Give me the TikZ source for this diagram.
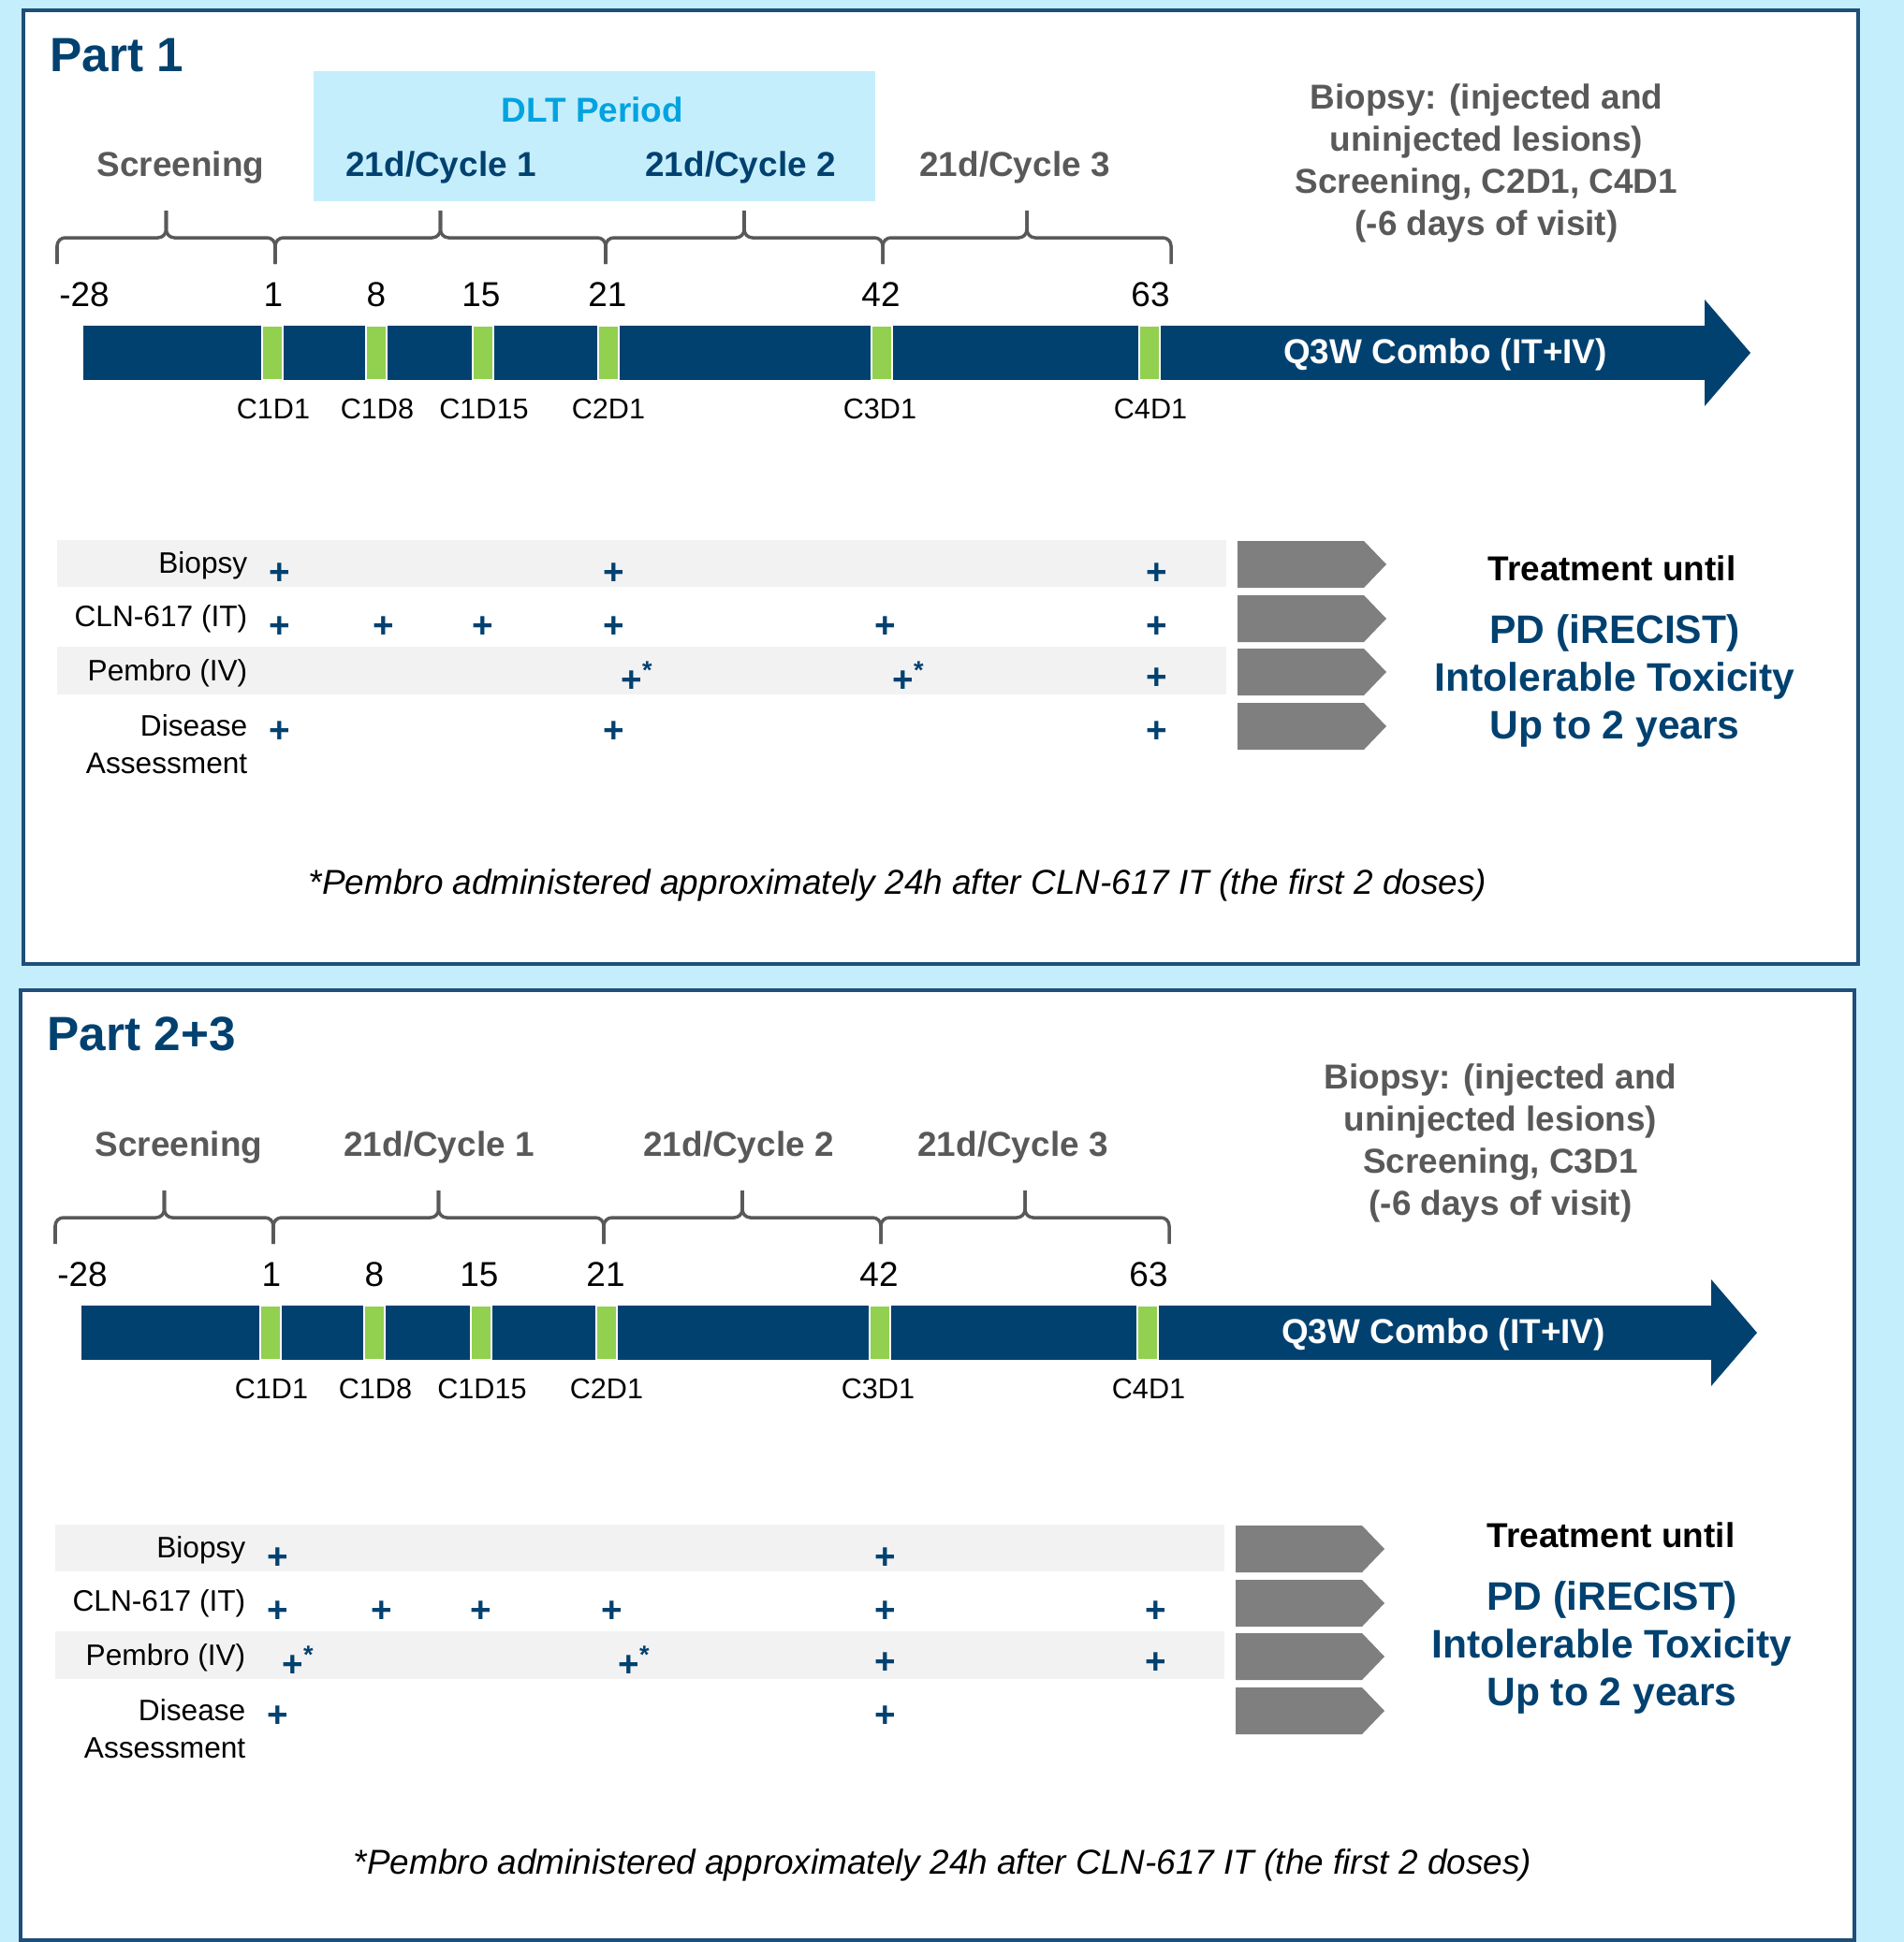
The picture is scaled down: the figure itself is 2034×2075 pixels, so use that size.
\documentclass[tikz,border=0pt]{standalone}
\usepackage{fontspec}
\setmainfont{Liberation Sans}

\definecolor{skyback}{RGB}{197,238,252}
\definecolor{navy}{RGB}{0,65,112}
\definecolor{framenavy}{RGB}{31,78,121}
\definecolor{visitgreen}{RGB}{146,208,80}
\definecolor{labelgray}{RGB}{89,89,89}
\definecolor{chevgray}{RGB}{127,127,127}
\definecolor{rowgray}{RGB}{242,242,242}
\definecolor{dltcyan}{RGB}{0,163,224}

% day axis of one part: cycle labels, braces, bar and visits
% #1 = name prefix, #2 = colour of cycle 1 and 2 labels, #3 = arrow head shift
\newcommand{\dayaxis}[3]{%
  \node[cycle label] (#1-screening) at (193,179) {Screening};
  \node[cycle label, text=#2] (#1-cycle1) at (471,179) {21d/Cycle 1};
  \node[cycle label, text=#2] (#1-cycle2) at (791,179) {21d/Cycle 2};
  \node[cycle label] (#1-cycle3) at (1084,179) {21d/Cycle 3};
  \foreach \a/\b in {61/294,294/647,647/943,943/1251} {
    \draw[brace line] (\a,282) |- ({(\a+\b)/2},254) -- ({(\a+\b)/2},225);
    \draw[brace line] (\b,282) |- ({(\a+\b)/2},254) -- ({(\a+\b)/2},225);
  }
  \fill[navy] (89,348) rectangle (1821+#3,406);
  \fill[navy] (1821+#3,320) -- (1870+#3,377) -- (1821+#3,434) -- cycle;
  \foreach \x in {291,402,516,650,942,1228}
    \filldraw[visit mark] (\x-11,348) rectangle (\x+11,406);
  \foreach \d/\x in {-28/90,1/292,8/402,15/514,21/649,42/941,63/1229}
    \node[day] (#1-d\d) at (\x,315) {\d};
  \foreach \v/\x in {C1D1/292,C1D8/403,C1D15/517,C2D1/650,C3D1/940,C4D1/1229}
    \node[visit] (#1-\v) at (\x,437) {\v};
  \node[combo] (#1-combo) at (1544,379) {Q3W Combo (IT+IV)};
}

% schedule table of one part, without the doses
\newcommand{\schedule}[1]{%
  \fill[rowgray] (61,577) rectangle (1310,627);
  \fill[rowgray] (61,691) rectangle (1310,742);
  \node[row] (#1-biopsy) at (265,604) {Biopsy};
  \node[row] (#1-cln) at (265,661) {CLN-617 (IT)};
  \node[row] (#1-pembro) at (265,719) {Pembro (IV)};
  \node[row] (#1-disease) at (265,795) {Disease\\Assessment};
  \foreach \y in {578,636,693,751}
    \fill[chevgray] (1322,\y) -- (1457,\y) -- (1481,\y+25) -- (1457,\y+50) -- (1322,\y+50) -- cycle;
}

\begin{document}
\begin{tikzpicture}[x=0.01cm, y=-0.01cm,
    every node/.style={inner sep=0pt},
    brace line/.style={draw=labelgray, line width=1pt, rounded corners=2.5pt},
    visit mark/.style={fill=visitgreen, draw=white, line width=0.4pt},
    frame/.style={draw=framenavy, fill=white, line width=0.9pt},
    part title/.style={font=\fontsize{14.6}{17}\selectfont\bfseries, text=navy, anchor=west},
    cycle label/.style={font=\fontsize{10.5}{12.8}\selectfont\bfseries, text=labelgray},
    day/.style={font=\fontsize{10.5}{12.8}\selectfont},
    visit/.style={font=\fontsize{8.7}{10.5}\selectfont},
    combo/.style={font=\fontsize{10.5}{12.8}\selectfont\bfseries, text=white},
    biopsy note/.style={font=\fontsize{10.5}{12.8}\selectfont\bfseries, text=labelgray, align=center},
    row/.style={font=\fontsize{9}{11.4}\selectfont, anchor=east, align=right},
    dose/.style={font=\fontsize{11}{12}\selectfont\bfseries, text=navy},
    until/.style={font=\fontsize{10.5}{12.8}\selectfont\bfseries},
    stop rule/.style={font=\fontsize{12.1}{14.5}\selectfont\bfseries, text=navy, align=center},
    note text/.style={font=\fontsize{10.5}{12.8}\selectfont\itshape}]

  % background and the two part frames
  \fill[skyback] (0,0) rectangle (2034,2075);
  \useasboundingbox (0,0) rectangle (2034,2075);
  \draw[frame] (25,11) rectangle (1985,1030);
  \draw[frame] (22,1058) rectangle (1981,2073);

  % ---- Part 1 ----
  \node[part title] (p1-title) at (53,59) {Part 1};
  \fill[skyback] (335,76) rectangle (935,215);
  \node[cycle label, text=dltcyan] (p1-dlt) at (633,117) {DLT Period};
  \dayaxis{p1}{navy}{0}
  \node[biopsy note] (p1-note) at (1588,174) {Biopsy: (injected and\\uninjected lesions)\\Screening, C2D1, C4D1\\(-6 days of visit)};

  \schedule{p1}
  \foreach \x in {299,656,1236} \node[dose] (p1-bio\x) at (\x,613) {+};
  \foreach \x in {299,410,516,656,946,1236} \node[dose] (p1-it\x) at (\x,670) {+};
  \foreach \x in {681,971} \node[dose] (p1-iv\x) at (\x,723) {+\textsuperscript{*}};
  \node[dose] (p1-iv1236) at (1236,725) {+};
  \foreach \x in {299,656,1236} \node[dose] (p1-da\x) at (\x,782) {+};

  \node[until] (p1-until) at (1722,607) {Treatment until};
  \node[stop rule] (p1-stop) at (1725,727) {PD (iRECIST)\\Intolerable Toxicity\\Up to 2 years};
  \node[note text] (p1-foot) at (959,946) {*Pembro administered approximately 24h after CLN-617 IT (the first 2 doses)};

  % ---- Part 2+3 ----
  \node[part title] (p2-title) at (50,1105) {Part 2+3};
  \begin{scope}[shift={(-2,1047)}]
    \dayaxis{p2}{labelgray}{9}
  \end{scope}
  \node[biopsy note] (p2-note) at (1603,1221) {Biopsy: (injected and\\uninjected lesions)\\Screening, C3D1\\(-6 days of visit)};

  \begin{scope}[shift={(-2,1052)}]
    \schedule{p2}
    \foreach \x in {299,948} \node[dose] (p2-bio\x) at (\x,613) {+};
    \foreach \x in {299,410,516,656,948,1237} \node[dose] (p2-it\x) at (\x,670) {+};
    \foreach \x in {321,680} \node[dose] (p2-iv\x) at (\x,723) {+\textsuperscript{*}};
    \foreach \x in {948,1237} \node[dose] (p2-iv\x) at (\x,725) {+};
    \foreach \x in {299,948} \node[dose] (p2-da\x) at (\x,782) {+};
  \end{scope}

  \node[until] (p2-until) at (1721,1640) {Treatment until};
  \node[stop rule] (p2-stop) at (1722,1760) {PD (iRECIST)\\Intolerable Toxicity\\Up to 2 years};
  \node[note text] (p2-foot) at (1007,1993) {*Pembro administered approximately 24h after CLN-617 IT (the first 2 doses)};
\end{tikzpicture}
\end{document}
